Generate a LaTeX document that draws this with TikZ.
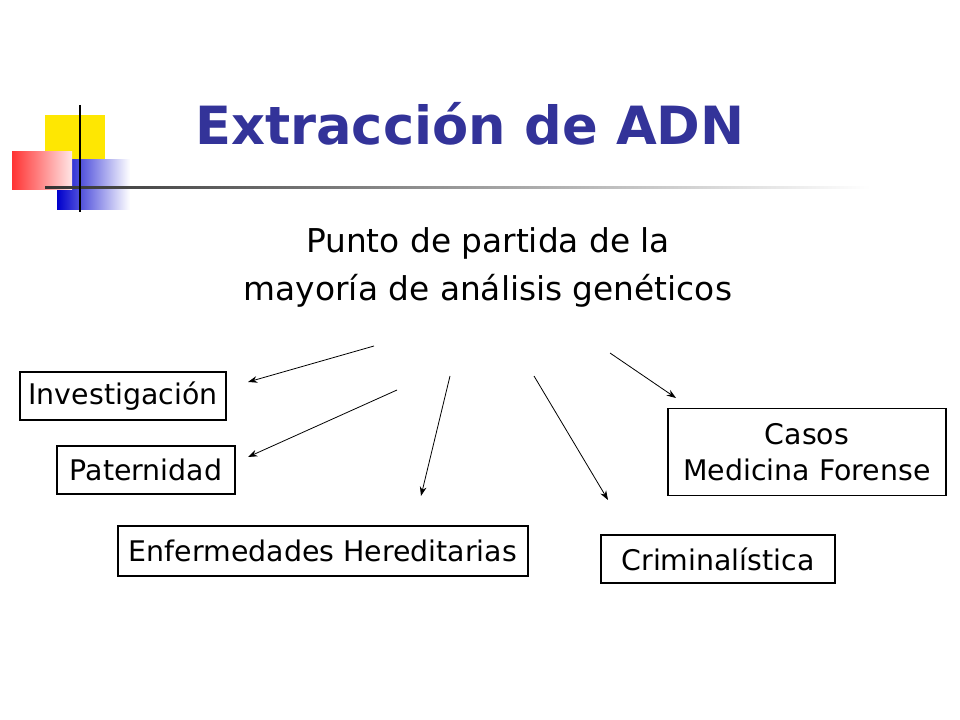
\documentclass[tikz,border=0pt]{standalone}
\usepackage{fontspec}
\setmainfont{DejaVu Sans}
\usetikzlibrary{arrows.meta}
\definecolor{titleblue}{HTML}{333399}
\tikzset{box/.style={draw,line width=0.8pt,inner sep=0pt,font=\fontsize{21.3}{27.5}\selectfont,align=center},
arr/.style={-{Stealth[length=7pt,width=5pt]},line width=0.6pt}}
\begin{document}
\begin{tikzpicture}[x=0.75pt,y=-0.75pt]
\useasboundingbox[fill=white] (0,0) rectangle (960,720);
% logo
\fill[yellow!90!orange] (45,115) rectangle (105,165);
\shade[left color=blue!80!black,right color=white] (57,160) rectangle (130,210);
\shade[left color=red!80,right color=red!10] (12,152) rectangle (72,190);
\shade[left color=black!80,right color=white] (45,187) rectangle (870,189);
\draw[line width=1.2pt] (80,105) -- (80,212);
% title
\node[font=\fontsize{39.5}{44}\selectfont\bfseries,text=titleblue] (title) at (470,124) {Extracción de ADN};
\node[font=\fontsize{24.6}{36}\selectfont,align=center] (sub) at (488,267) {Punto de partida de la\\mayoría de análisis genéticos};
% boxes
\node[box,minimum width=206pt*0.75,minimum height=48pt*0.75] (inv) at (123,396) {Investigación};
\node[box,minimum width=178pt*0.75,minimum height=48pt*0.75] (pat) at (146,470) {Paternidad};
\node[box,minimum width=410pt*0.75,minimum height=50pt*0.75] (enf) at (323,551) {Enfermedades Hereditarias};
\node[box,minimum width=234pt*0.75,minimum height=48pt*0.75] (cri) at (718,559) {Criminalística};
\node[box,minimum width=278pt*0.75,minimum height=87pt*0.75] (cas) at (807,452) {Casos\\Medicina Forense};
% arrows
\coordinate (s1) at (374,346); \coordinate (e1) at (248,382);
\coordinate (s2) at (397,390); \coordinate (e2) at (248,457);
\coordinate (s3) at (450,376); \coordinate (e3) at (421,496);
\coordinate (s4) at (534,376); \coordinate (e4) at (608,500);
\coordinate (s5) at (610,353); \coordinate (e5) at (676,398);
\draw[arr] (s1) -- (e1);
\draw[arr] (s2) -- (e2);
\draw[arr] (s3) -- (e3);
\draw[arr] (s4) -- (e4);
\draw[arr] (s5) -- (e5);
\end{tikzpicture}
\end{document}
